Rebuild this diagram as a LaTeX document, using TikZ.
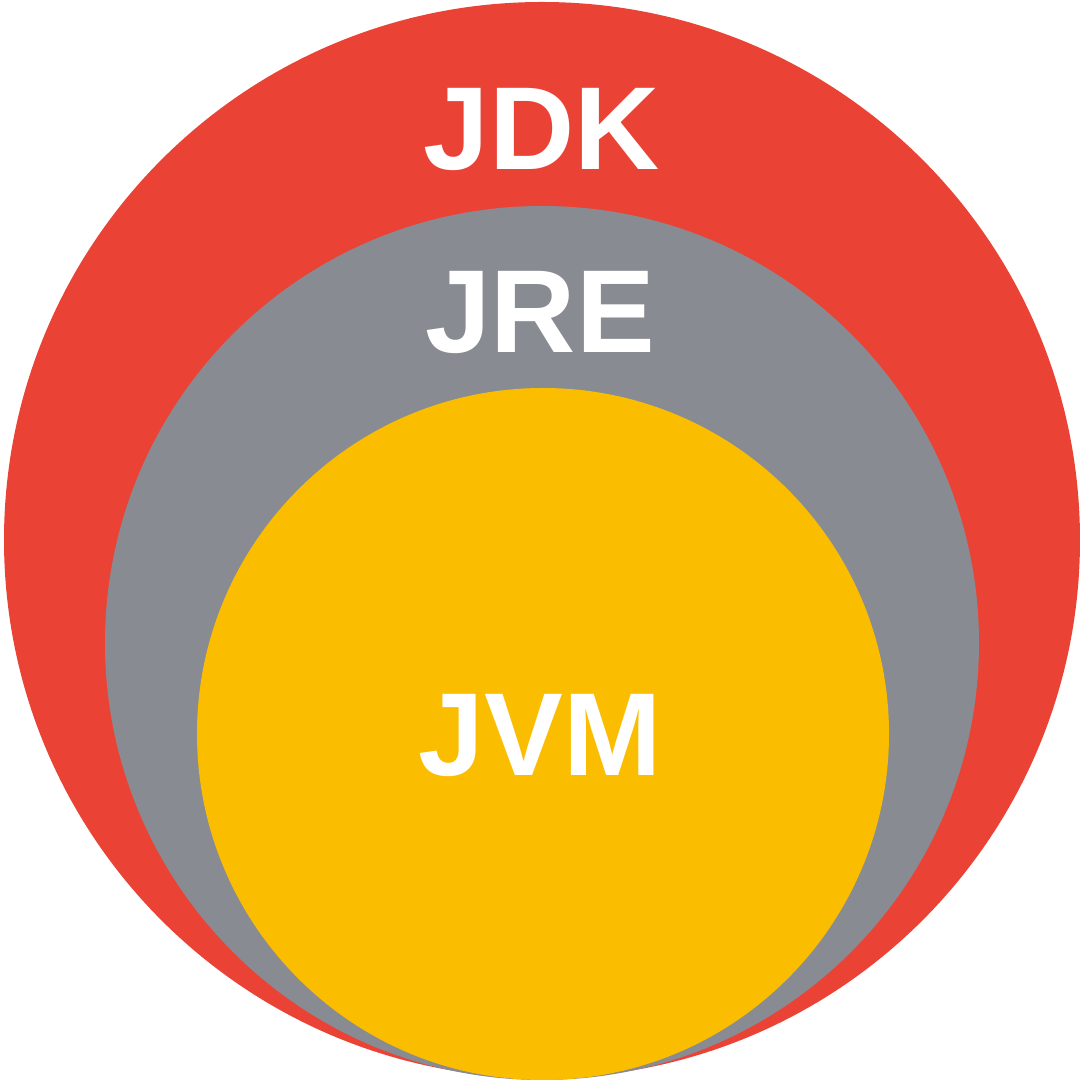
\documentclass[tikz,border=0pt]{standalone}
\usepackage{fontspec}
\setmainfont{Liberation Sans}
\definecolor{jdkred}{HTML}{EA4335}
\definecolor{jregray}{HTML}{898B92}
\definecolor{jvmyellow}{HTML}{FABD00}
\begin{document}
\begin{tikzpicture}[x=1pt,y=1pt,
  lbl/.style={text=white,font=\fontsize{118}{118}\selectfont\bfseries,inner sep=0pt,anchor=base}]
\useasboundingbox (0,0) rectangle (1080,1080);
\fill[jdkred] (542,540) circle (538);
\fill[jregray] (542,437) circle (437);
\fill[jvmyellow] (543,346) circle (346);
\node[lbl] (jdk) at (542,910) {JDK};
\node[lbl] (jre) at (540,727) {JRE};
\node[lbl] (jvm) at (540,304) {JVM};
\end{tikzpicture}
\end{document}
